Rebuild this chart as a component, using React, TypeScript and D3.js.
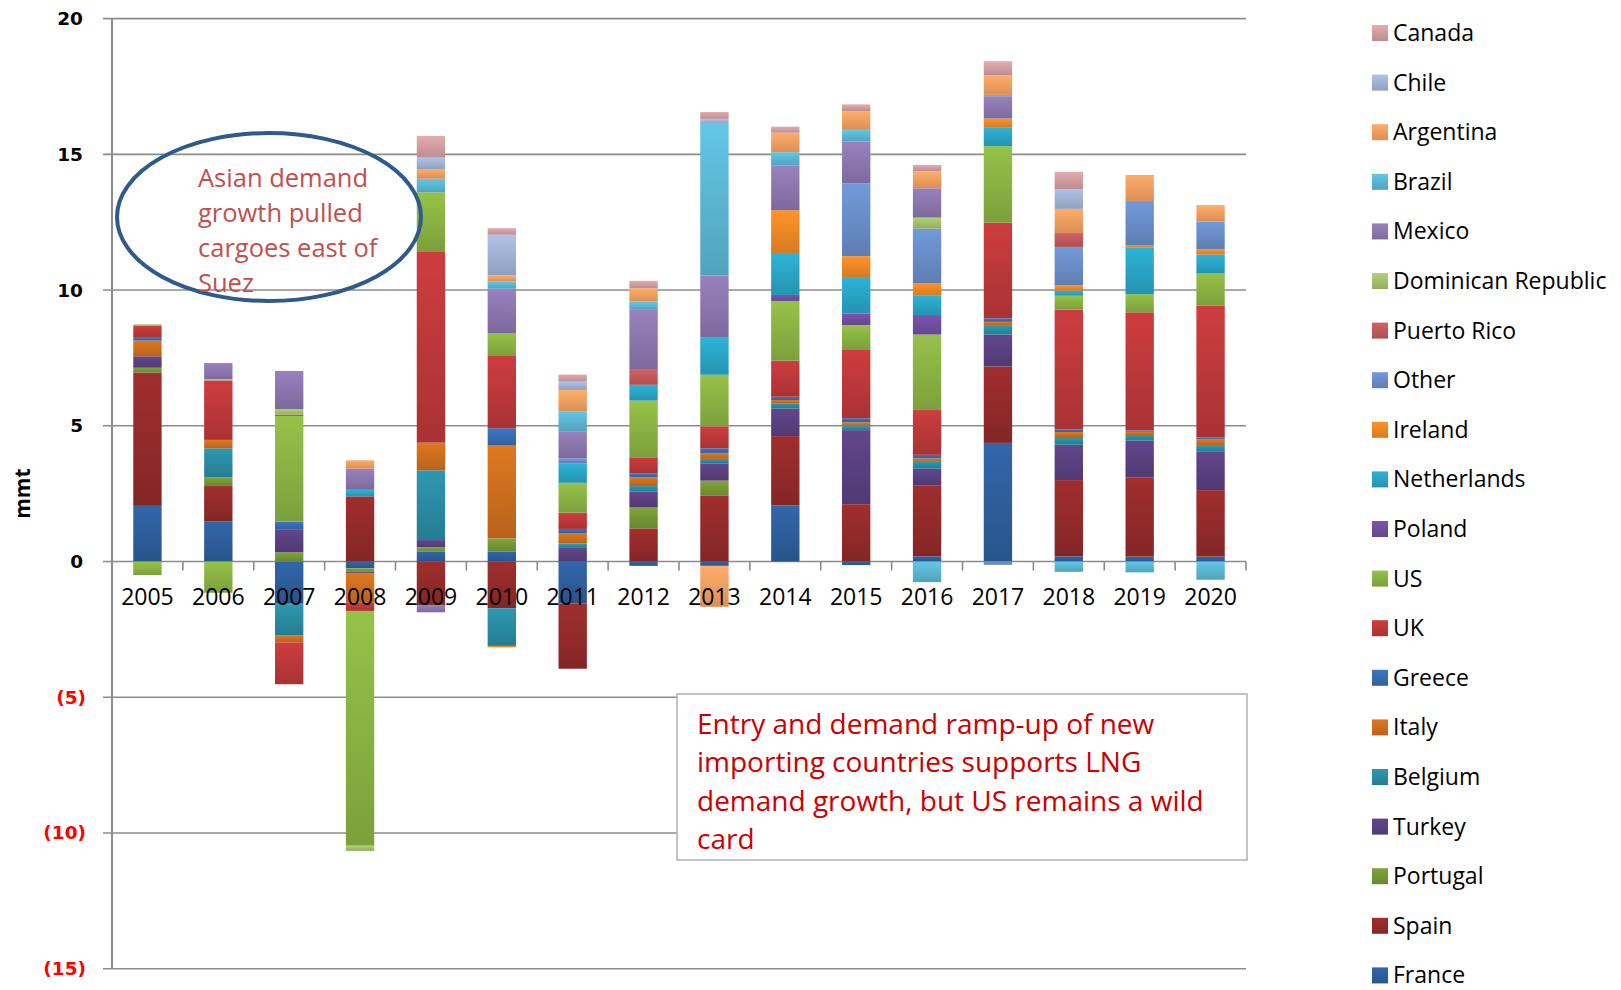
import React from "react";
import * as d3 from "d3";

const years = ["2005","2006","2007","2008","2009","2010","2011","2012","2013","2014","2015","2016","2017","2018","2019","2020"];

// stacking order: bottom (first) to top (last)
const seriesNames = ["France","Spain","Portugal","Turkey","Belgium","Italy","Greece","UK","US","Poland","Netherlands","Ireland","Other","Puerto Rico","Dominican Republic","Mexico","Brazil","Argentina","Chile","Canada"];

const France      = [2.05, 1.47, -1.54, -0.25, 0.36, 0.36, -1.55, -0.16, -0.16, 2.07, -0.13, 0.19, 4.37, 0.19, 0.18, 0.18];
const Spain       = [4.91, 1.31, -0.03, 2.40, -1.60, -1.72, -2.40, 1.22, 2.42, 2.55, 2.11, 2.62, 2.81, 2.81, 2.91, 2.45];
const Portugal    = [0.18, 0.32, 0.34, -0.12, 0.17, 0.49, 0, 0.77, 0.56, 0, 0, 0, 0, 0, 0, 0];
const Turkey      = [0.42, 0, 0.85, -0.05, 0.26, 0, 0.50, 0.58, 0.64, 1.02, 2.73, 0.61, 1.18, 1.30, 1.36, 1.41];
const Belgium     = [0, 1.07, -1.14, 0, 2.57, -1.39, 0.16, 0.21, 0.16, 0.19, 0.15, 0.25, 0.32, 0.25, 0.21, 0.25];
const Italy       = [0.58, 0.31, -0.27, -1.10, 1.02, 3.42, 0.39, 0.32, 0.22, 0.12, 0.14, 0.13, 0.15, 0.22, 0.12, 0.21];
const Greece      = [0.10, 0, 0.28, 0, 0, 0.64, 0.15, 0.15, 0.17, 0.12, 0.15, 0.13, 0.13, 0.10, 0.05, 0.07];
const UK          = [0.45, 2.19, -1.54, -0.30, 7.05, 2.66, 0.60, 0.59, 0.81, 1.33, 2.54, 1.65, 3.52, 4.41, 4.35, 4.85];
const US          = [-0.50, -1.15, 3.89, -8.65, 2.17, 0.83, 1.10, 2.09, 1.90, 2.20, 0.89, 2.78, 2.82, 0.51, 0.67, 1.19];
const Poland      = [0, 0, 0, 0, 0, 0, 0, 0, 0, 0.22, 0.43, 0.72, 0, 0, 0, 0];
const Netherlands = [0, 0, 0, 0.24, 0, 0, 0.72, 0.58, 1.39, 1.51, 1.34, 0.71, 0.70, 0.19, 1.71, 0.70];
const Ireland     = [0, 0, 0, 0, 0, -0.05, 0, 0, 0, 1.61, 0.77, 0.47, 0.32, 0.19, 0.10, 0.20];
const Other       = [0, 0, 0, 0, 0, 0, 0.18, 0, 0, 0, 2.68, 2.00, -0.12, 1.42, 1.62, 1.01];
const PuertoRico  = [0, 0, 0.05, 0, 0, 0, 0, 0.55, 0, 0, 0, 0, 0, 0.51, 0, 0];
const Dominican   = [0.05, 0.05, 0.20, -0.19, 0, 0, 0, 0, 0, 0, 0, 0.41, 0, 0, 0, 0];
const Mexico      = [0, 0.59, 1.41, 0.78, -0.27, 1.65, 1.00, 2.21, 2.27, 1.64, 1.54, 1.08, 0.82, 0, 0, 0];
const Brazil      = [0, 0, 0, 0, 0.50, 0.26, 0.72, 0.31, 5.58, 0.50, 0.43, -0.76, 0.05, -0.38, -0.40, -0.67];
const Argentina   = [0, 0, 0, 0.31, 0.36, 0.24, 0.80, 0.49, -1.51, 0.72, 0.69, 0.63, 0.73, 0.89, 0.96, 0.61];
const Chile       = [0, 0, 0, 0, 0.42, 1.49, 0.31, 0, 0.19, 0, 0, 0, 0, 0.72, 0, 0];
const Canada      = [0, 0, 0, 0, 0.80, 0.24, 0.26, 0.27, 0.25, 0.22, 0.25, 0.23, 0.51, 0.65, 0, 0];

const seriesValues = [France, Spain, Portugal, Turkey, Belgium, Italy, Greece, UK, US, Poland, Netherlands, Ireland, Other, PuertoRico, Dominican, Mexico, Brazil, Argentina, Chile, Canada];

const seriesColors = ["#2f5f9e","#962b2b","#779a36","#5b4182","#2a8ea5","#d0701e","#3a6db5","#c0393b","#8cb544","#7150a0","#2aa7c8","#f28a25","#6a8fcb","#c45a5c","#a5c46d","#8e78b1","#5cb9d5","#f8a262","#a3b6d8","#d4a0a4"];

const yTicks = [20, 15, 10, 5, 0, -5, -10, -15];
const yTickLabels = ["20", "15", "10", "5", "0", "(5)", "(10)", "(15)"];

const ellipseLines = ["Asian demand", "growth pulled", "cargoes east of", "Suez"];
const boxLines = ["Entry and demand ramp-up of new", "importing countries supports LNG", "demand growth, but US remains a wild", "card"];

const W = 1621, H = 990;
const plotLeft = 112, plotRight = 1246, plotTop = 18.6, plotBottom = 968.7;

export default function App() {
  const x = d3.scaleBand<string>().domain(years).range([plotLeft, plotRight]).paddingInner(0).paddingOuter(0);
  const y = d3.scaleLinear().domain([-15, 20]).range([plotBottom, plotTop]);
  const barW = x.step() * 0.4;

  const table = years.map((yr, i) => {
    const row: Record<string, number | string> = { year: yr };
    seriesNames.forEach((s, k) => (row[s] = seriesValues[k][i]));
    return row;
  });
  const stacked = d3.stack<any>().keys(seriesNames).order(d3.stackOrderNone).offset(d3.stackOffsetDiverging)(table);

  const legendTop = 33, legendStep = 49.6;
  const legendOrder = [...seriesNames].reverse();
  const font = "'Open Sans', 'Noto Sans', sans-serif";

  return (
    <svg width={W} height={H} style={{ position: "absolute", left: 0, top: 0, display: "block", background: "#fff" }}>
      <defs>
        {seriesNames.map((s, k) => {
          const c = d3.color(seriesColors[k])!;
          return (
            <linearGradient key={s} id={`g${k}`} x1="0" y1="0" x2="0" y2="1">
              <stop offset="0%" stopColor={c.brighter(0.2).formatHex()} />
              <stop offset="100%" stopColor={c.darker(0.35).formatHex()} />
            </linearGradient>
          );
        })}
      </defs>

      {/* gridlines */}
      {yTicks.map((t) => (
        <line key={t} x1={plotLeft - 9} x2={plotRight} y1={y(t)} y2={y(t)} stroke="#8c8c8c" strokeWidth={1.6} />
      ))}
      {/* y axis */}
      <line x1={plotLeft} x2={plotLeft} y1={plotTop} y2={plotBottom} stroke="#8c8c8c" strokeWidth={2} />
      {/* x axis ticks */}
      {years.map((yr) => (
        <line key={yr} x1={x(yr)! + x.step()} x2={x(yr)! + x.step()} y1={y(0)} y2={y(0) + 9} stroke="#8c8c8c" strokeWidth={1.6} />
      ))}

      {/* y tick labels */}
      {yTicks.map((t, i) => (
        <text key={t} x={t < 0 ? 86 : 83} y={y(t)} dy="0.35em" textAnchor="end" fontFamily="'DejaVu Sans', sans-serif" fontWeight="bold" fontSize={18.5}
          fill={t < 0 ? "#ff0000" : "#000"}>{yTickLabels[i]}</text>
      ))}
      <text transform={`translate(23,${y(2.5)}) rotate(-90)`} textAnchor="middle" dy="0.35em" fontFamily={font} fontWeight="bold" fontSize={21}>mmt</text>

      {/* bars */}
      {stacked.map((layer, k) => (
        <g key={layer.key} fill={`url(#g${k})`}>
          {layer.map((d, i) => {
            const top = y(Math.max(d[0], d[1]));
            const h = Math.abs(y(d[0]) - y(d[1]));
            if (h < 0.01) return null;
            return <rect key={i} x={x(years[i])! + (x.step() - barW) / 2} y={top} width={barW} height={h} />;
          })}
        </g>
      ))}

      {/* year labels */}
      {years.map((yr) => (
        <text key={yr} x={x(yr)! + x.step() / 2} y={y(0) + 43} textAnchor="middle" fontFamily={font} fontSize={23} fill="#000">{yr}</text>
      ))}

      {/* ellipse annotation */}
      <ellipse cx={269} cy={217} rx={152} ry={84} fill="none" stroke="#2f5a8a" strokeWidth={4} />
      {ellipseLines.map((l, i) => (
        <text key={l} x={198} y={187 + i * 35} fontFamily={font} fontSize={25.5} fill="#c0504d">{l}</text>
      ))}

      {/* box annotation */}
      <rect x={677} y={694} width={570} height={166} fill="#fff" stroke="#b0b0b0" strokeWidth={1.5} />
      {boxLines.map((l, i) => (
        <text key={l} x={697} y={734 + i * 38.3} fontFamily={font} fontSize={28} fill="#cc0000">{l}</text>
      ))}

      {/* legend */}
      {legendOrder.map((s, i) => {
        const k = seriesNames.indexOf(s);
        const cy = legendTop + i * legendStep;
        return (
          <g key={s}>
            <rect x={1372} y={cy - 8} width={16} height={16} fill={`url(#g${k})`} />
            <text x={1393} y={cy} dy="0.35em" fontFamily={font} fontSize={23} fill="#000">{s}</text>
          </g>
        );
      })}
    </svg>
  );
}
